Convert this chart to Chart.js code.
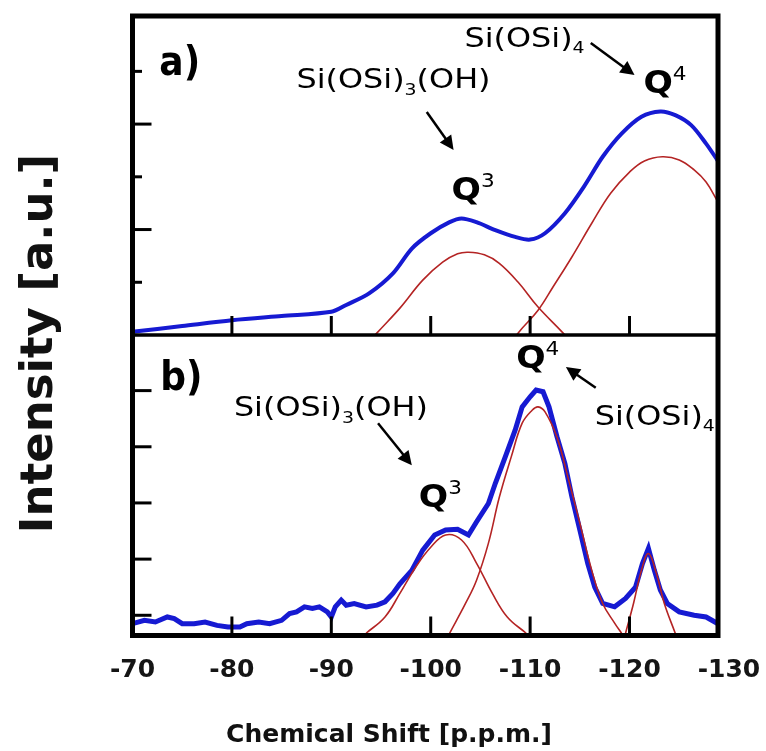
<!DOCTYPE html>
<html>
<head>
<meta charset="utf-8">
<script src="https://cdn.jsdelivr.net/npm/chart.js@4.4.1/dist/chart.umd.min.js"></script>
<style>
  html, body { margin: 0; padding: 0; background: #fff; }
  canvas { display: block; }
</style>
</head>
<body>
<canvas id="nmrChart" width="766" height="751"></canvas>
<script>
// x axis ticks (ppm)
const xTicks = [-70, -80, -90, -100, -110, -120, -130];
const aTicks = [1, 2, 3, 4, 5];
const bTicks = [0, 1, 2, 3, 4];

// panel a) measured spectrum
const aShift = [-70, -75, -80, -85, -90, -91.5, -93.8, -96.2, -98.1, -100, -101.9, -103.1, -104.6, -106.5, -108.5, -110, -111.5, -113.5, -115.4, -117.3, -119.2, -121.2, -123.1, -124.6, -126.2, -127.7, -128.9];
const aIntensity = [0.06, 0.17, 0.28, 0.36, 0.44, 0.57, 0.79, 1.17, 1.64, 1.93, 2.14, 2.21, 2.14, 1.99, 1.86, 1.81, 1.93, 2.31, 2.81, 3.38, 3.82, 4.14, 4.24, 4.17, 3.98, 3.63, 3.30];

// panel a) fitted components
const aQ3Shift = [-92.3, -94.6, -96.9, -99.2, -101.2, -102.7, -103.8, -105.4, -106.9, -108.8, -110.8, -113.3, -115.4];
const aQ3Fit = [-0.45, 0.04, 0.51, 1.04, 1.38, 1.54, 1.57, 1.52, 1.36, 1.0, 0.53, 0.04, -0.4];
const aQ4Shift = [-106.9, -108.8, -110.8, -112.3, -114.2, -116.2, -118.1, -120, -121.5, -123.3, -125, -126.5, -127.7, -128.9];
const aQ4Fit = [-0.45, 0.04, 0.47, 0.91, 1.48, 2.12, 2.69, 3.09, 3.30, 3.38, 3.32, 3.13, 2.90, 2.52];

// panel b) measured spectrum
const bShift = [-70, -71.2, -72.3, -73.5, -74.2, -75, -76.2, -77.3, -78.5, -79.6, -80.8, -81.5, -82.7, -83.8, -85, -85.8, -86.5, -87.3, -88.1, -88.8, -89.6, -90, -90.4, -91, -91.5, -92.3, -93.5, -94.6, -95.4, -96.2, -96.9, -98.1, -99.2, -100.4, -101.5, -102.7, -103.8, -104.6, -105.8, -106.5, -107.5, -108.5, -109.2, -110, -110.6, -111.3, -111.9, -112.7, -113.5, -114.2, -115, -115.8, -116.5, -117.3, -118.5, -119.6, -120.6, -121.3, -121.9, -122.5, -123.1, -123.8, -125, -126.5, -127.7, -128.9];
const bIntensity = [-0.15, -0.09, -0.12, -0.03, -0.06, -0.15, -0.15, -0.12, -0.18, -0.21, -0.21, -0.15, -0.12, -0.15, -0.09, 0.03, 0.06, 0.15, 0.12, 0.15, 0.06, -0.03, 0.15, 0.27, 0.18, 0.21, 0.15, 0.18, 0.24, 0.39, 0.56, 0.80, 1.16, 1.43, 1.52, 1.53, 1.43, 1.66, 1.99, 2.35, 2.82, 3.30, 3.71, 3.89, 4.01, 3.98, 3.71, 3.18, 2.70, 2.11, 1.52, 0.92, 0.50, 0.21, 0.15, 0.30, 0.50, 0.92, 1.19, 0.80, 0.45, 0.21, 0.06, 0.0, -0.03, -0.15];

// panel b) fitted components
const bQ3Shift = [-93.5, -95.4, -96.9, -98.5, -100, -101.5, -103.1, -104.6, -106.2, -107.7, -109.6];
const bQ3Fit = [-0.32, -0.03, 0.39, 0.86, 1.21, 1.43, 1.34, 0.93, 0.39, -0.03, -0.32];
const bQ4Shift = [-101.9, -103.5, -104.6, -105.8, -106.9, -108.1, -109.2, -110.2, -110.8, -111.5, -112.7, -113.8, -115, -116.2, -117.3, -118.5, -119.2];
const bQ4Fit = [-0.32, 0.21, 0.62, 1.28, 2.10, 2.82, 3.42, 3.65, 3.71, 3.62, 3.17, 2.46, 1.64, 0.80, 0.21, -0.14, -0.32];
const bPeak3Shift = [-119.6, -120.4, -121.2, -121.9, -122.7, -123.5, -124.6];
const bPeak3Fit = [-0.32, 0.21, 0.80, 1.10, 0.75, 0.21, -0.32];

const FONT = '"DejaVu Sans", Verdana, sans-serif';
const BLUE = 'rgb(22, 26, 210)';
const RED = 'rgb(180, 36, 36)';

// text labels and arrows, placed in data units of each panel
const notes = [
    { axis: 'ya', x: -72.7, y: 4.93, stretch: 0.9, runs: [['a)', 'bold 40px', 0]] },
    { axis: 'ya', x: -103.4, y: 5.46, stretch: 1.18, runs: [['Si(OSi)', '27px', 0], ['4', '16px', 6]] },
    { axis: 'ya', x: -86.5, y: 4.69, stretch: 1.18, runs: [['Si(OSi)', '27px', 0], ['3', '16px', 7], ['(OH)', '27px', 0]] },
    { axis: 'ya', x: -121.4, y: 4.59, stretch: 1.08, runs: [['Q', 'bold 32px', 0], ['4', '20px', -13]] },
    { axis: 'ya', x: -102.1, y: 2.56, stretch: 1.08, runs: [['Q', 'bold 32px', 0], ['3', '20px', -13]] },
    { axis: 'yb', x: -72.8, y: 4.01, stretch: 0.9, runs: [['b)', 'bold 40px', 0]] },
    { axis: 'yb', x: -108.6, y: 4.40, stretch: 1.08, runs: [['Q', 'bold 32px', 0], ['4', '20px', -13]] },
    { axis: 'yb', x: -116.5, y: 3.39, stretch: 1.18, runs: [['Si(OSi)', '27px', 0], ['4', '16px', 6]] },
    { axis: 'yb', x: -80.2, y: 3.55, stretch: 1.18, runs: [['Si(OSi)', '27px', 0], ['3', '16px', 7], ['(OH)', '27px', 0]] },
    { axis: 'yb', x: -98.8, y: 1.93, stretch: 1.08, runs: [['Q', 'bold 32px', 0], ['3', '20px', -13]] }
];
const arrows = [
    { axis: 'ya', from: [-116.1, 5.54], to: [-120.5, 4.93] },
    { axis: 'ya', from: [-99.6, 4.23], to: [-102.3, 3.51] },
    { axis: 'yb', from: [-116.6, 4.05], to: [-113.6, 4.42] },
    { axis: 'yb', from: [-94.7, 3.42], to: [-98.1, 2.67] }
];

function toPoints(xs, ys) {
    return xs.map((x, i) => ({ x: x, y: ys[i] }));
}

function spectrum(xs, ys, axis, width, tension) {
    return { data: toPoints(xs, ys), yAxisID: axis, borderColor: BLUE, borderWidth: width,
             pointRadius: 0, tension: tension, order: 2 };
}

function fit(xs, ys, axis) {
    return { data: toPoints(xs, ys), yAxisID: axis, borderColor: RED, borderWidth: 1.6,
             pointRadius: 0, tension: 0.4, order: 1 };
}

function line(ctx, x1, y1, x2, y2) {
    ctx.beginPath();
    ctx.moveTo(x1, y1);
    ctx.lineTo(x2, y2);
    ctx.stroke();
}

// keeps each curve inside its own panel and draws frame, ticks and labels
const panelPlugin = {
    id: 'panels',
    beforeDatasetDraw(chart, args) {
        const y = chart.scales[args.meta.yAxisID];
        const area = chart.chartArea;
        chart.ctx.save();
        chart.ctx.beginPath();
        chart.ctx.rect(area.left, y.top, area.right - area.left, y.bottom - y.top);
        chart.ctx.clip();
    },
    afterDatasetDraw(chart) {
        chart.ctx.restore();
    },
    afterDraw(chart) {
        const ctx = chart.ctx;
        const area = chart.chartArea;
        const xs = chart.scales.x;
        ctx.save();
        ctx.strokeStyle = '#000';
        ctx.fillStyle = '#000';

        // inward tick marks
        ctx.lineWidth = 3;
        ['ya', 'yb'].forEach(id => {
            const s = chart.scales[id];
            s.ticks.forEach(t => {
                const py = s.getPixelForValue(t.value);
                const len = (id === 'ya' && t.value % 2 === 1) ? 9.5 : 19;
                line(ctx, area.left, py, area.left + len, py);
            });
            xs.ticks.forEach(t => {
                const px = xs.getPixelForValue(t.value);
                if (px <= area.left + 4 || px >= area.right - 4) return;
                line(ctx, px, s.bottom, px, s.bottom - 19);
            });
        });

        // frame and divider
        ctx.lineWidth = 5;
        ctx.strokeRect(area.left, area.top, area.right - area.left, area.bottom - area.top);
        ctx.lineWidth = 3.5;
        line(ctx, area.left, chart.scales.ya.bottom, area.right, chart.scales.ya.bottom);

        // annotations
        ctx.textBaseline = 'alphabetic';
        ctx.textAlign = 'left';
        notes.forEach(n => {
            const s = chart.scales[n.axis];
            let cx = xs.getPixelForValue(n.x);
            const cy = s.getPixelForValue(n.y);
            n.runs.forEach(r => {
                ctx.font = r[1] + ' ' + FONT;
                ctx.save();
                ctx.translate(cx, cy + r[2]);
                ctx.scale(n.stretch, 1);
                ctx.fillText(r[0], 0, 0);
                ctx.restore();
                cx += ctx.measureText(r[0]).width * n.stretch;
            });
        });

        ctx.lineWidth = 2.5;
        arrows.forEach(a => {
            const s = chart.scales[a.axis];
            const x1 = xs.getPixelForValue(a.from[0]), y1 = s.getPixelForValue(a.from[1]);
            const x2 = xs.getPixelForValue(a.to[0]), y2 = s.getPixelForValue(a.to[1]);
            const ang = Math.atan2(y2 - y1, x2 - x1);
            const head = 14;
            line(ctx, x1, y1, x2 - Math.cos(ang) * head * 0.8, y2 - Math.sin(ang) * head * 0.8);
            ctx.beginPath();
            ctx.moveTo(x2, y2);
            ctx.lineTo(x2 - head * Math.cos(ang) + 7 * Math.sin(ang), y2 - head * Math.sin(ang) - 7 * Math.cos(ang));
            ctx.lineTo(x2 - head * Math.cos(ang) - 7 * Math.sin(ang), y2 - head * Math.sin(ang) + 7 * Math.cos(ang));
            ctx.closePath();
            ctx.fill();
        });

        // axis titles
        ctx.fillStyle = '#111';
        ctx.textAlign = 'center';
        ctx.font = 'bold 25px ' + FONT;
        ctx.fillText('Chemical Shift [p.p.m.]', 389, 742);
        ctx.save();
        ctx.translate(52, 343.5);
        ctx.rotate(-Math.PI / 2);
        ctx.font = 'bold 45px ' + FONT;
        ctx.fillText('Intensity [a.u.]', 0, 0);
        ctx.restore();

        ctx.restore();
    }
};

const hiddenY = {
    type: 'linear',
    position: 'left',
    stack: 'nmr',
    ticks: { display: false },
    grid: { display: false, drawTicks: false },
    border: { display: false }
};

const ctx = document.getElementById('nmrChart').getContext('2d');
new Chart(ctx, {
    type: 'line',
    data: {
        datasets: [
            spectrum(aShift, aIntensity, 'ya', 4, 0.3),
            fit(aQ3Shift, aQ3Fit, 'ya'),
            fit(aQ4Shift, aQ4Fit, 'ya'),
            spectrum(bShift, bIntensity, 'yb', 5, 0),
            fit(bQ3Shift, bQ3Fit, 'yb'),
            fit(bQ4Shift, bQ4Fit, 'yb'),
            fit(bPeak3Shift, bPeak3Fit, 'yb')
        ]
    },
    options: {
        responsive: false,
        animation: false,
        layout: { padding: { top: 16, right: 48, left: 0, bottom: 0 } },
        plugins: { legend: { display: false }, tooltip: { enabled: false } },
        scales: {
            x: {
                type: 'linear',
                reverse: true,
                min: -128.9,
                max: -70,
                afterBuildTicks: s => { s.ticks = xTicks.map(v => ({ value: v })); },
                afterFit: s => { s.height = 115.5; s.paddingLeft = 0; s.paddingRight = 0; },
                grid: { display: false, drawTicks: false },
                border: { display: false },
                ticks: { color: '#151515', padding: 20, maxRotation: 0, autoSkip: false,
                         font: { family: FONT, size: 25, weight: 'bold' } }
            },
            // stacked panels: the first axis listed ends up at the bottom
            yb: Object.assign({}, hiddenY, {
                min: -0.36, max: 4.99, stackWeight: 300.5,
                afterBuildTicks: s => { s.ticks = bTicks.map(v => ({ value: v })); },
                afterFit: s => { s.width = 132.5; }
            }),
            ya: Object.assign({}, hiddenY, {
                min: 0, max: 6.05, stackWeight: 319,
                afterBuildTicks: s => { s.ticks = aTicks.map(v => ({ value: v })); },
                afterFit: s => { s.width = 132.5; }
            })
        }
    },
    plugins: [panelPlugin]
});
</script>
</body>
</html>
